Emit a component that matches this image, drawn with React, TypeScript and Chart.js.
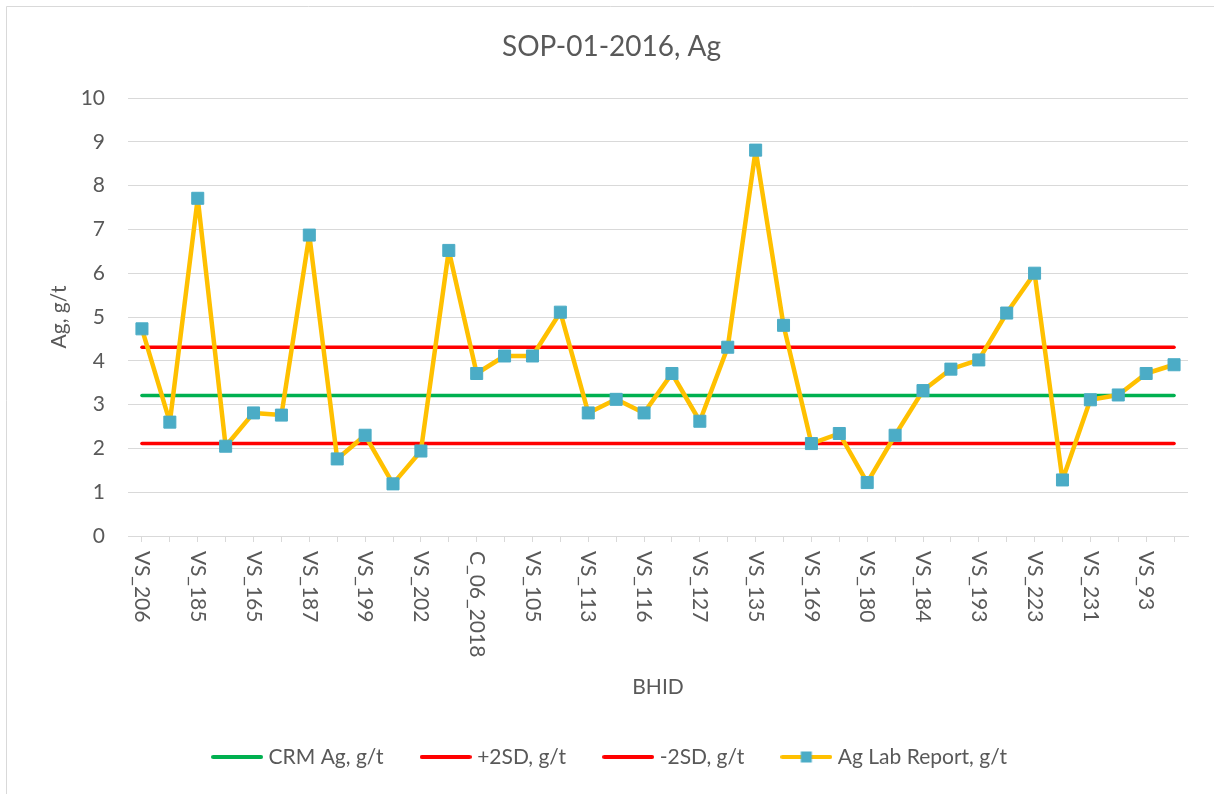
import React, { useEffect, useRef } from 'react';
import { Chart, registerables } from 'chart.js';

Chart.register(...registerables);

const FONT = 'Lato';
const TEXT = '#595959';
const GRID = '#d9d9d9';

const chartTitle = 'SOP-01-2016, Ag';
const xTitle = 'BHID';
const yTitle = 'Ag, g/t';

// 38 samples; only every other label is legible in the reference
const categories = [
  'VS_206', '', 'VS_185', '', 'VS_165', '', 'VS_187', '', 'VS_199', '',
  'VS_202', '', 'C_06_2018', '', 'VS_105', '', 'VS_113', '', 'VS_116', '',
  'VS_127', '', 'VS_135', '', 'VS_169', '', 'VS_180', '', 'VS_184', '',
  'VS_193', '', 'VS_223', '', 'VS_231', '', 'VS_93', '',
];

const agLab = [
  4.73, 2.60, 7.71, 2.05, 2.81, 2.76, 6.87, 1.76, 2.30, 1.19,
  1.94, 6.52, 3.71, 4.11, 4.11, 5.11, 2.81, 3.12, 2.81, 3.71,
  2.62, 4.31, 8.81, 4.81, 2.11, 2.34, 1.22, 2.30, 3.32, 3.81,
  4.02, 5.09, 6.00, 1.28, 3.11, 3.22, 3.71, 3.91,
];

const crmValue = 3.21;
const plus2SDValue = 4.31;
const minus2SDValue = 2.11;

const yMin = 0;
const yMax = 10;
const yStep = 1;

const seriesLabels = ['CRM Ag, g/t', '+2SD, g/t', '-2SD, g/t', 'Ag Lab Report, g/t'];
const seriesColors = ['#00b050', '#ff0000', '#ff0000', '#ffc000'];
const markerColor = '#4bacc6';

function makeLegendIcon(color: string, marker: boolean): HTMLCanvasElement {
  const c = document.createElement('canvas');
  c.width = 52;
  c.height = 14;
  const g = c.getContext('2d')!;
  g.strokeStyle = color;
  g.lineWidth = 4;
  g.lineCap = 'round';
  g.beginPath();
  g.moveTo(2, 7);
  g.lineTo(50, 7);
  g.stroke();
  if (marker) {
    g.fillStyle = markerColor;
    g.fillRect(20.5, 1.5, 11, 11);
  }
  return c;
}

const framePlugin = {
  id: 'frame',
  beforeDraw(chart: any) {
    const { ctx, width, height } = chart;
    ctx.save();
    ctx.fillStyle = '#ffffff';
    ctx.fillRect(0, 0, width, height);
    ctx.strokeStyle = GRID;
    ctx.lineWidth = 1;
    ctx.beginPath();
    ctx.moveTo(6.5, height);
    ctx.lineTo(6.5, 6.5);
    ctx.lineTo(width, 6.5);
    ctx.stroke();
    ctx.restore();
  },
};

const xLabelsPlugin = {
  id: 'xLabels',
  afterDraw(chart: any) {
    const xs = chart.scales.x;
    const ctx = chart.ctx;
    ctx.save();
    ctx.font = `21px ${FONT}`;
    ctx.fillStyle = TEXT;
    ctx.textAlign = 'left';
    ctx.textBaseline = 'middle';
    categories.forEach((c, i) => {
      if (!c) return;
      const x = xs.getPixelForValue(i);
      ctx.save();
      ctx.translate(x, xs.top + 15);
      ctx.rotate(Math.PI / 2);
      ctx.fillText(c, 0, 0);
      ctx.restore();
    });
    ctx.restore();
  },
};

export default function App() {
  const ref = useRef<HTMLCanvasElement | null>(null);

  useEffect(() => {
    if (!ref.current) return;
    const icons = seriesColors.map((col, i) => makeLegendIcon(col, i === 3));
    const chart = new Chart(ref.current, {
      type: 'line',
      data: {
        labels: categories,
        datasets: [
          {
            label: seriesLabels[0],
            data: categories.map(() => crmValue),
            borderColor: seriesColors[0],
            backgroundColor: seriesColors[0],
            borderWidth: 3.5,
            borderCapStyle: 'round',
            pointRadius: 0,
            order: 3,
          },
          {
            label: seriesLabels[1],
            data: categories.map(() => plus2SDValue),
            borderColor: seriesColors[1],
            backgroundColor: seriesColors[1],
            borderWidth: 3.5,
            borderCapStyle: 'round',
            pointRadius: 0,
            order: 2,
          },
          {
            label: seriesLabels[2],
            data: categories.map(() => minus2SDValue),
            borderColor: seriesColors[2],
            backgroundColor: seriesColors[2],
            borderWidth: 3.5,
            borderCapStyle: 'round',
            pointRadius: 0,
            order: 1,
          },
          {
            label: seriesLabels[3],
            data: agLab,
            borderColor: seriesColors[3],
            backgroundColor: markerColor,
            borderWidth: 4.5,
            borderJoinStyle: 'round',
            borderCapStyle: 'round',
            pointStyle: 'rect',
            pointRadius: 8.5,
            pointBackgroundColor: markerColor,
            pointBorderColor: markerColor,
            pointBorderWidth: 1,
            order: 0,
          },
        ],
      } as any,
      options: {
        animation: false,
        responsive: true,
        maintainAspectRatio: false,
        layout: { padding: { left: 9, right: 0, top: 0, bottom: 16.5 } },
        plugins: {
          tooltip: { enabled: false },
          title: {
            display: true,
            text: chartTitle,
            color: TEXT,
            font: { family: FONT, size: 28, weight: 'normal' },
            padding: { top: 30.2, bottom: 34.2 },
          },
          legend: {
            position: 'bottom',
            labels: {
              usePointStyle: true,
              pointStyleWidth: 42,
              color: TEXT,
              font: { family: FONT, size: 21 },
              padding: 41,
              generateLabels: (ch: any) =>
                ch.data.datasets.map((ds: any, i: number) => ({
                  text: ds.label,
                  pointStyle: icons[i],
                  fillStyle: 'transparent',
                  strokeStyle: 'transparent',
                  lineWidth: 0,
                  fontColor: TEXT,
                  hidden: !ch.isDatasetVisible(i),
                  datasetIndex: i,
                })),
            },
          },
        },
        scales: {
          x: {
            offset: true,
            ticks: { display: false, autoSkip: false },
            grid: { drawOnChartArea: false, drawTicks: true, tickLength: 6, color: GRID },
            border: { display: true, color: GRID, width: 1 },
            title: {
              display: true,
              text: xTitle,
              color: TEXT,
              font: { family: FONT, size: 21 },
              padding: { top: 0, bottom: 5.9 },
            },
            afterFit: (s: any) => {
              s.height = 169.5;
            },
          },
          y: {
            min: yMin,
            max: yMax,
            ticks: {
              stepSize: yStep,
              color: TEXT,
              font: { family: FONT, size: 21 },
              padding: 23,
            },
            grid: { color: GRID, drawTicks: false, lineWidth: 1 },
            border: { display: false },
            title: {
              display: true,
              text: yTitle,
              color: TEXT,
              font: { family: FONT, size: 21 },
              padding: { top: 37.4, bottom: 0 },
            },
            afterFit: (s: any) => {
              s.width = 119;
            },
          },
          y2: {
            position: 'right',
            display: true,
            min: 0,
            max: 1,
            ticks: { display: false },
            grid: { drawOnChartArea: false, drawTicks: false },
            border: { display: false },
            afterFit: (s: any) => {
              s.width = 26;
            },
          },
        },
      } as any,
      plugins: [framePlugin, xLabelsPlugin],
    });
    return () => chart.destroy();
  }, []);

  return (
    <div style={{ position: 'fixed', left: 0, top: 0, width: 1214, height: 794 }}>
      <canvas ref={ref} />
    </div>
  );
}
